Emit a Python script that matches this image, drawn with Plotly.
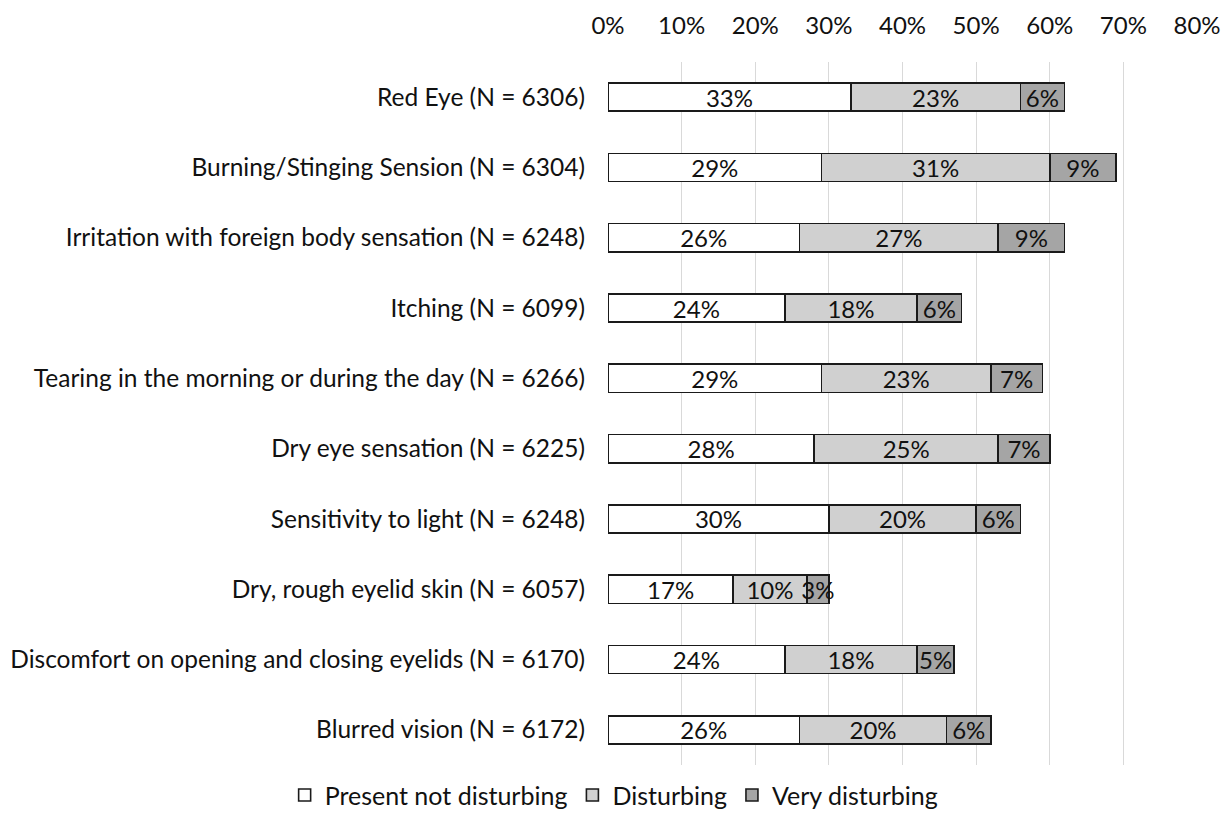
import plotly.graph_objects as go

categories = [
    "Red Eye (N = 6306)",
    "Burning/Stinging Sension (N = 6304)",
    "Irritation with foreign body sensation (N = 6248)",
    "Itching (N = 6099)",
    "Tearing in the morning or during the day (N = 6266)",
    "Dry eye sensation (N = 6225)",
    "Sensitivity to light (N = 6248)",
    "Dry, rough eyelid skin (N = 6057)",
    "Discomfort on opening and closing eyelids (N = 6170)",
    "Blurred vision (N = 6172)",
]
present_not_disturbing = [33, 29, 26, 24, 29, 28, 30, 17, 24, 26]
disturbing = [23, 31, 27, 18, 23, 25, 20, 10, 18, 20]
very_disturbing = [6, 9, 9, 6, 7, 7, 6, 3, 5, 6]
x_ticks = [0, 10, 20, 30, 40, 50, 60, 70, 80]

FONT = "Lato"
FS = 24
series = [
    ("Present not disturbing", present_not_disturbing, "#ffffff"),
    ("Disturbing", disturbing, "#d0d0d0"),
    ("Very disturbing", very_disturbing, "#a5a5a5"),
]

fig = go.Figure()
for name, vals, color in series:
    fig.add_trace(go.Bar(
        y=categories, x=vals, name=name, orientation="h",
        marker=dict(color=color, line=dict(color="#1a1a1a", width=1.6)),
        text=[f"{v}%" for v in vals], textposition="inside",
        insidetextanchor="middle", textangle=0,
        textfont=dict(family=FONT, size=FS, color="#111111"),
        constraintext="none",
    ))

fig.update_layout(
    barmode="stack", bargap=0.6,
    width=1223, height=834,
    margin=dict(l=608, r=26, t=62, b=69),
    plot_bgcolor="white", paper_bgcolor="white",
    font=dict(family=FONT, size=FS, color="#111111"),
    uniformtext=dict(mode="show", minsize=FS),
    legend=dict(orientation="h", x=-0.549, xanchor="left", y=-0.043, yanchor="middle",
                font=dict(family=FONT, size=25, color="#111111"),
                traceorder="normal", itemwidth=30),
    xaxis=dict(side="top", range=[0, 80], tickvals=x_ticks,
               ticktext=[f"{t}%" for t in x_ticks], automargin=False,
               ticklabelstandoff=22,
               showgrid=True, gridcolor="#d9d9d9", gridwidth=1,
               zeroline=False, showline=False, ticks="",
               tickfont=dict(family=FONT, size=FS, color="#111111")),
    yaxis=dict(autorange="reversed", showgrid=False, showline=False, ticks="",
               ticklabelstandoff=22, automargin=False,
               tickfont=dict(family=FONT, size=24.5, color="#111111")),
)

fig.write_html("out.html", config={"displayModeBar": False},
               post_script="document.body.style.margin='0';document.body.style.overflow='hidden';")
